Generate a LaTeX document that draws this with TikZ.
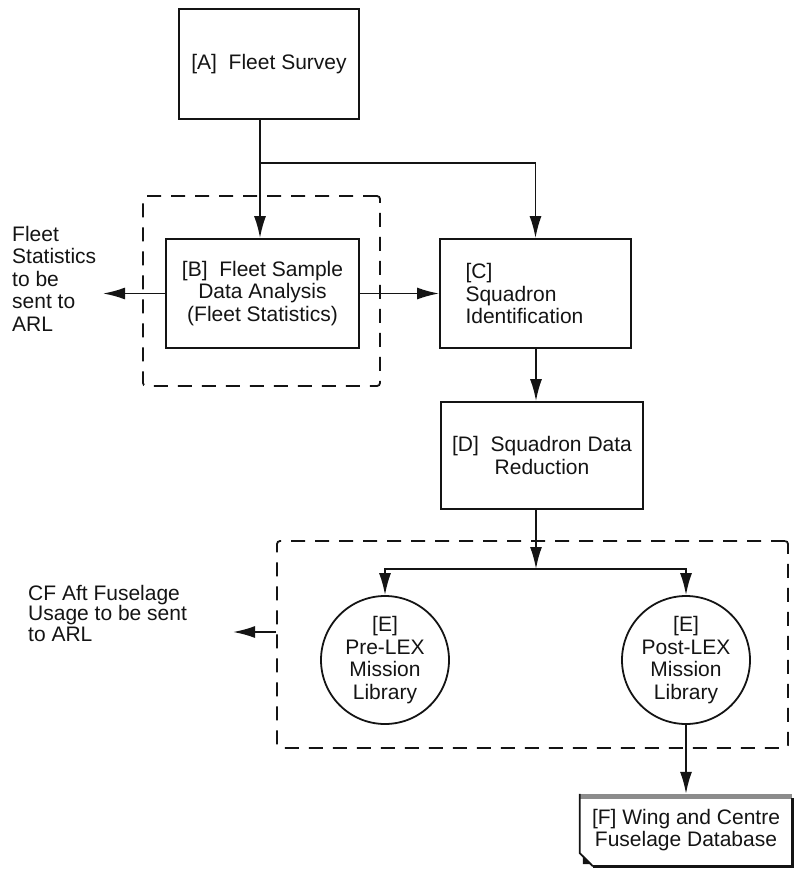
\documentclass[tikz,border=0pt]{standalone}
\usepackage{fontspec}
\setmainfont{Liberation Sans}
\usepackage{tikz}
\usetikzlibrary{arrows.meta,positioning,calc}
\definecolor{ink}{RGB}{20,20,20}
\definecolor{stipple}{RGB}{140,140,140}

\tikzset{
  stagebox/.style={draw=ink,line width=1.8pt,inner sep=4pt,align=center},
  library/.style={draw=ink,circle,line width=1.8pt,minimum size=128pt,
    inner sep=0pt,align=center},
  group/.style={draw=ink,line width=1.8pt,rounded corners=3pt,
    dash pattern=on 14pt off 10pt},
  flow/.style={draw=ink,line width=1.8pt,-{Latex[length=22pt,width=12pt]}},
  note/.style={align=left,anchor=north west,inner sep=0pt,text=ink}
}

\begin{document}
\begin{tikzpicture}[x=1pt,y=-1pt,
    font=\fontsize{21}{22.5}\selectfont,text=ink]
  \useasboundingbox (0,0) rectangle (795,875);

  \node[group,minimum width=237pt,minimum height=190pt] (samplegroup)
    at (261.5,291) {};
  \node[group,minimum width=511pt,minimum height=207pt] (libgroup)
    at (532.5,644.5) {};

  \node[stagebox,minimum width=180pt,minimum height=110pt] (fleet)
    at (269,64) {[A]\ \ Fleet Survey};
  \node[stagebox,minimum width=193pt,minimum height=109pt] (sample)
    at (262.5,293.5) {[B]\ \ Fleet Sample\\Data Analysis\\(Fleet Statistics)};
  \node[stagebox,minimum width=191pt,minimum height=109pt,
    align=left,text width=140pt] (squad)
    at (535.5,293.5) {[C]\\Squadron\\Identification};
  \node[stagebox,minimum width=202pt,minimum height=107pt] (reduce)
    at (542,455.5) {[D]\ \ Squadron Data\\Reduction};

  \node[library] (prelex) at (385,660) {[E]\\Pre-LEX\\Mission\\Library};
  \node[library] (postlex) at (686,660) {[E]\\Post-LEX\\Mission\\Library};

  \node[minimum width=212pt,minimum height=72pt,inner sep=0pt,align=center]
    (wingdb) at (686,830) {[F] Wing and Centre\\Fuselage Database};
  \fill[stipple] (wingdb.north west) rectangle ([yshift=-5pt]wingdb.north east);
  \draw[ink,line width=1.8pt] (wingdb.north west)
    -- ([yshift=13pt]wingdb.south west) -- ([xshift=13pt]wingdb.south west);
  \draw[ink,line width=3.2pt] ([xshift=13pt]wingdb.south west)
    -- (wingdb.south east) -- ([yshift=-4pt]wingdb.north east);
  \fill[ink] ([xshift=3pt,yshift=11pt]wingdb.south west)
    -- ([xshift=3pt,yshift=2pt]wingdb.south west)
    -- ([xshift=12pt,yshift=2pt]wingdb.south west) -- cycle;

  \node[note] (statsnote) at (12,226) {Fleet\\Statistics\\to be\\sent to\\ARL};
  \node[note,font=\fontsize{21}{20.5}\selectfont] (usagenote) at (28,585)
    {CF Aft Fuselage\\Usage to be sent\\to ARL};

  \coordinate (fork) at (260,163);
  \coordinate (split) at (536,569);
  \coordinate (statsend) at (103,293.5);
  \coordinate (usageend) at (233,632);

  \draw[flow] (fork |- fleet.south) -- (fork |- sample.north);
  \draw[flow] (fork) -| (squad.north);
  \draw[flow] (sample.east) -- (squad.west);
  \draw[flow] (sample.west) -- (statsend);
  \draw[flow] (split |- squad.south) -- (split |- reduce.north);
  \draw[flow] (split |- reduce.south) -- (split);
  \draw[flow] (split) -| (prelex.north);
  \draw[flow] (split) -| (postlex.north);
  \draw[flow] (libgroup.west |- usageend) -- (usageend);
  \draw[flow] (postlex.south) -- (postlex.south |- wingdb.north);
\end{tikzpicture}
\end{document}
